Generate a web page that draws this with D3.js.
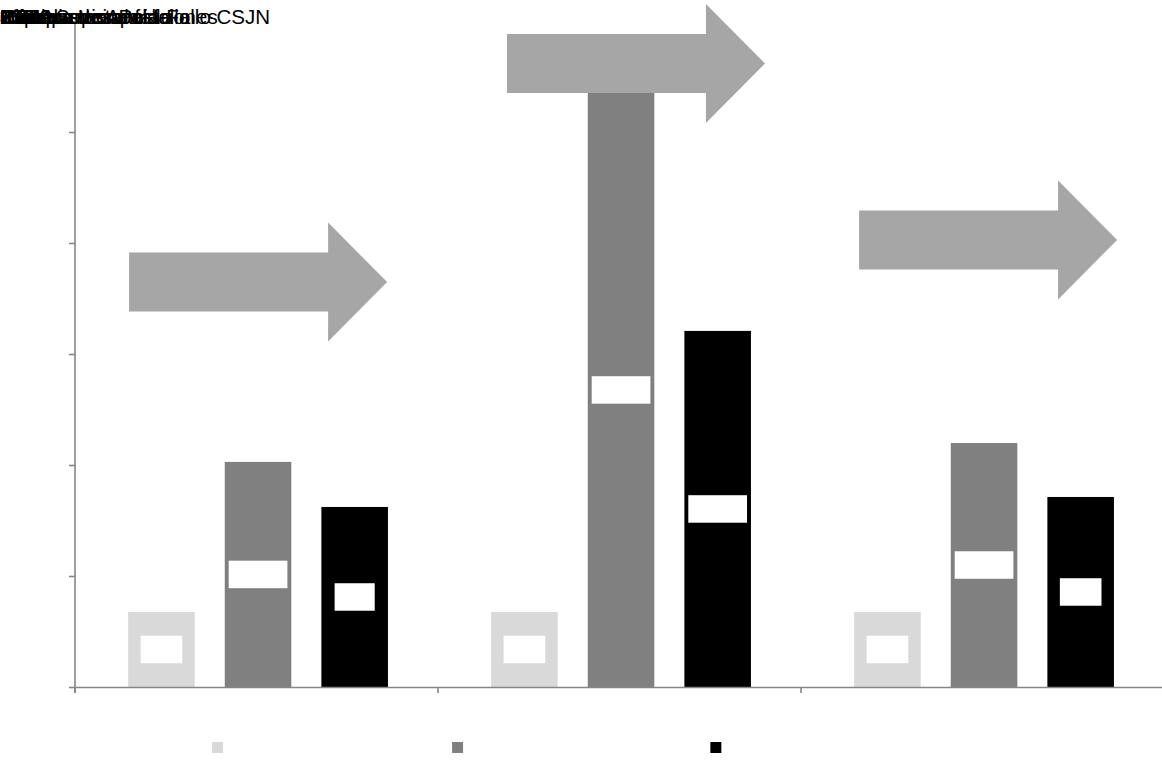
<!DOCTYPE html>
<html>
<head>
<meta charset="utf-8">
<script src="https://cdn.jsdelivr.net/npm/d3@7"></script>
<style>
  html, body { margin: 0; padding: 0; background: #ffffff; }
  svg { display: block; }
  text { font-family: "Liberation Sans", Arial, sans-serif; }
</style>
</head>
<body>
<svg id="chart" width="1162" height="761"></svg>
<script>
// ---- data ----
const categories = ["Primera Instancia", "Cámara de Apelaciones", "Corte Suprema"];
const seriesNames = ["Nivel previo al fallo", "Pico posterior al fallo", "Expedientes Post-Fallo CSJN"];
const preValues  = [338, 338, 338];
const peakValues = [1014, 2676, 1099];
const postValues = [811, 1604, 856];
const yTicks = [0, 500, 1000, 1500, 2000, 2500, 3000];
// arrow annotations: where each arrow starts inside its category band, and the value of its centre line
const arrowStartFraction = [0.149, 0.19, 0.16];
const arrowLevel = [1824, 2809, 2014];

// ---- layout & style ----
const W = 1162, H = 761;
const plot = { left: 75, right: 1164, top: 21, bottom: 687 };
const colors = ["#d9d9d9", "#808080", "#000000"];
const axisColor = "#868686";
const arrowColor = "#a6a6a6";
const fontSize = 20.5;

const svg = d3.select("#chart");
const es = d3.formatLocale({ decimal: ",", thousands: ".", grouping: [3], currency: ["$", ""] });
const fmt = es.format(",d");

const seriesValues = [preValues, peakValues, postValues];
const rows = [];
categories.forEach((c, ci) => {
  seriesValues.forEach((vals, si) => rows.push({ cat: c, s: si, v: vals[ci] }));
});

const x0 = d3.scaleBand().domain(categories).range([plot.left, plot.right]).padding(0);
const x1 = d3.scaleBand().domain(d3.range(seriesNames.length))
  .range([0, x0.bandwidth()]).paddingInner(0.311).paddingOuter(0.534).align(0.515);
const y = d3.scaleLinear().domain([0, 3000]).range([plot.bottom, plot.top]);

// ---- bars ----
svg.append("g").selectAll("rect").data(rows).join("rect")
  .attr("x", d => x0(d.cat) + x1(d.s))
  .attr("y", d => y(d.v))
  .attr("width", x1.bandwidth())
  .attr("height", d => y(0) - y(d.v))
  .attr("fill", d => colors[d.s]);

// ---- axes ----
const yAxis = svg.append("g").attr("transform", `translate(${plot.left},0)`)
  .call(d3.axisLeft(y).tickValues(yTicks).tickSize(6).tickSizeOuter(0).tickFormat(""));
const xAxis = svg.append("g").attr("transform", `translate(0,${plot.bottom})`)
  .call(d3.axisBottom(x0).tickSize(0).tickSizeOuter(0).tickFormat(""));
// category separators on the baseline
xAxis.selectAll(".sep").data(categories).join("line")
  .attr("class", "sep")
  .attr("x1", d => x0(d)).attr("x2", d => x0(d))
  .attr("y1", 0).attr("y2", 6);
[yAxis, xAxis].forEach(g => {
  g.selectAll("path, line").attr("stroke", axisColor).attr("stroke-width", 1.6);
  g.selectAll("text").remove();
});
yAxis.select(".domain").attr("d", `M0,${plot.top}V${plot.bottom + 6}`);

// ---- arrows ----
const shaft = 59, headH = 119, headL = 59, arrowLen = 258;
const arrowG = svg.append("g");
categories.forEach((c, i) => {
  const xs = x0(c) + arrowStartFraction[i] * x0.bandwidth();
  const yc = y(arrowLevel[i]);
  const xe = xs + arrowLen, xh = xe - headL;
  const pts = [
    [xs, yc - shaft / 2], [xh, yc - shaft / 2], [xh, yc - headH / 2], [xe, yc],
    [xh, yc + headH / 2], [xh, yc + shaft / 2], [xs, yc + shaft / 2]
  ];
  arrowG.append("path").attr("d", d3.line()(pts) + "Z").attr("fill", arrowColor);
});

// ---- text layer (all labels share the top-left anchor) ----
const textG = svg.append("g").attr("transform", "translate(0,24)")
  .attr("font-size", fontSize).attr("fill", "#000");
const addText = t => textG.append("text").attr("x", 0).attr("y", 0).text(t);

yTicks.forEach(t => addText(fmt(t)));
categories.forEach(c => addText(c));
const labelNodes = rows.map(d => addText(fmt(d.v)));
const legendNodes = seriesNames.map(n => addText(n));

// ---- data label boxes ----
const pad = 3.7, boxH = 27.5;
svg.append("g").selectAll("rect").data(rows).join("rect")
  .attr("width", (d, i) => labelNodes[i].node().getComputedTextLength() + 2 * pad)
  .attr("height", boxH)
  .attr("x", (d, i) => x0(d.cat) + x1(d.s) + x1.bandwidth() / 2 - (labelNodes[i].node().getComputedTextLength() + 2 * pad) / 2)
  .attr("y", d => (y(d.v) + y(0)) / 2 - boxH / 2)
  .attr("fill", "#ffffff");

// ---- legend ----
const sw = 11, swGap = 6, itemGap = 51;
let lx = 212;
const legendG = svg.append("g");
seriesNames.forEach((n, i) => {
  legendG.append("rect").attr("x", lx).attr("y", 742).attr("width", sw).attr("height", sw)
    .attr("fill", colors[i]);
  lx += sw + swGap + legendNodes[i].node().getComputedTextLength() + itemGap;
});

textG.raise();
</script>
</body>
</html>
